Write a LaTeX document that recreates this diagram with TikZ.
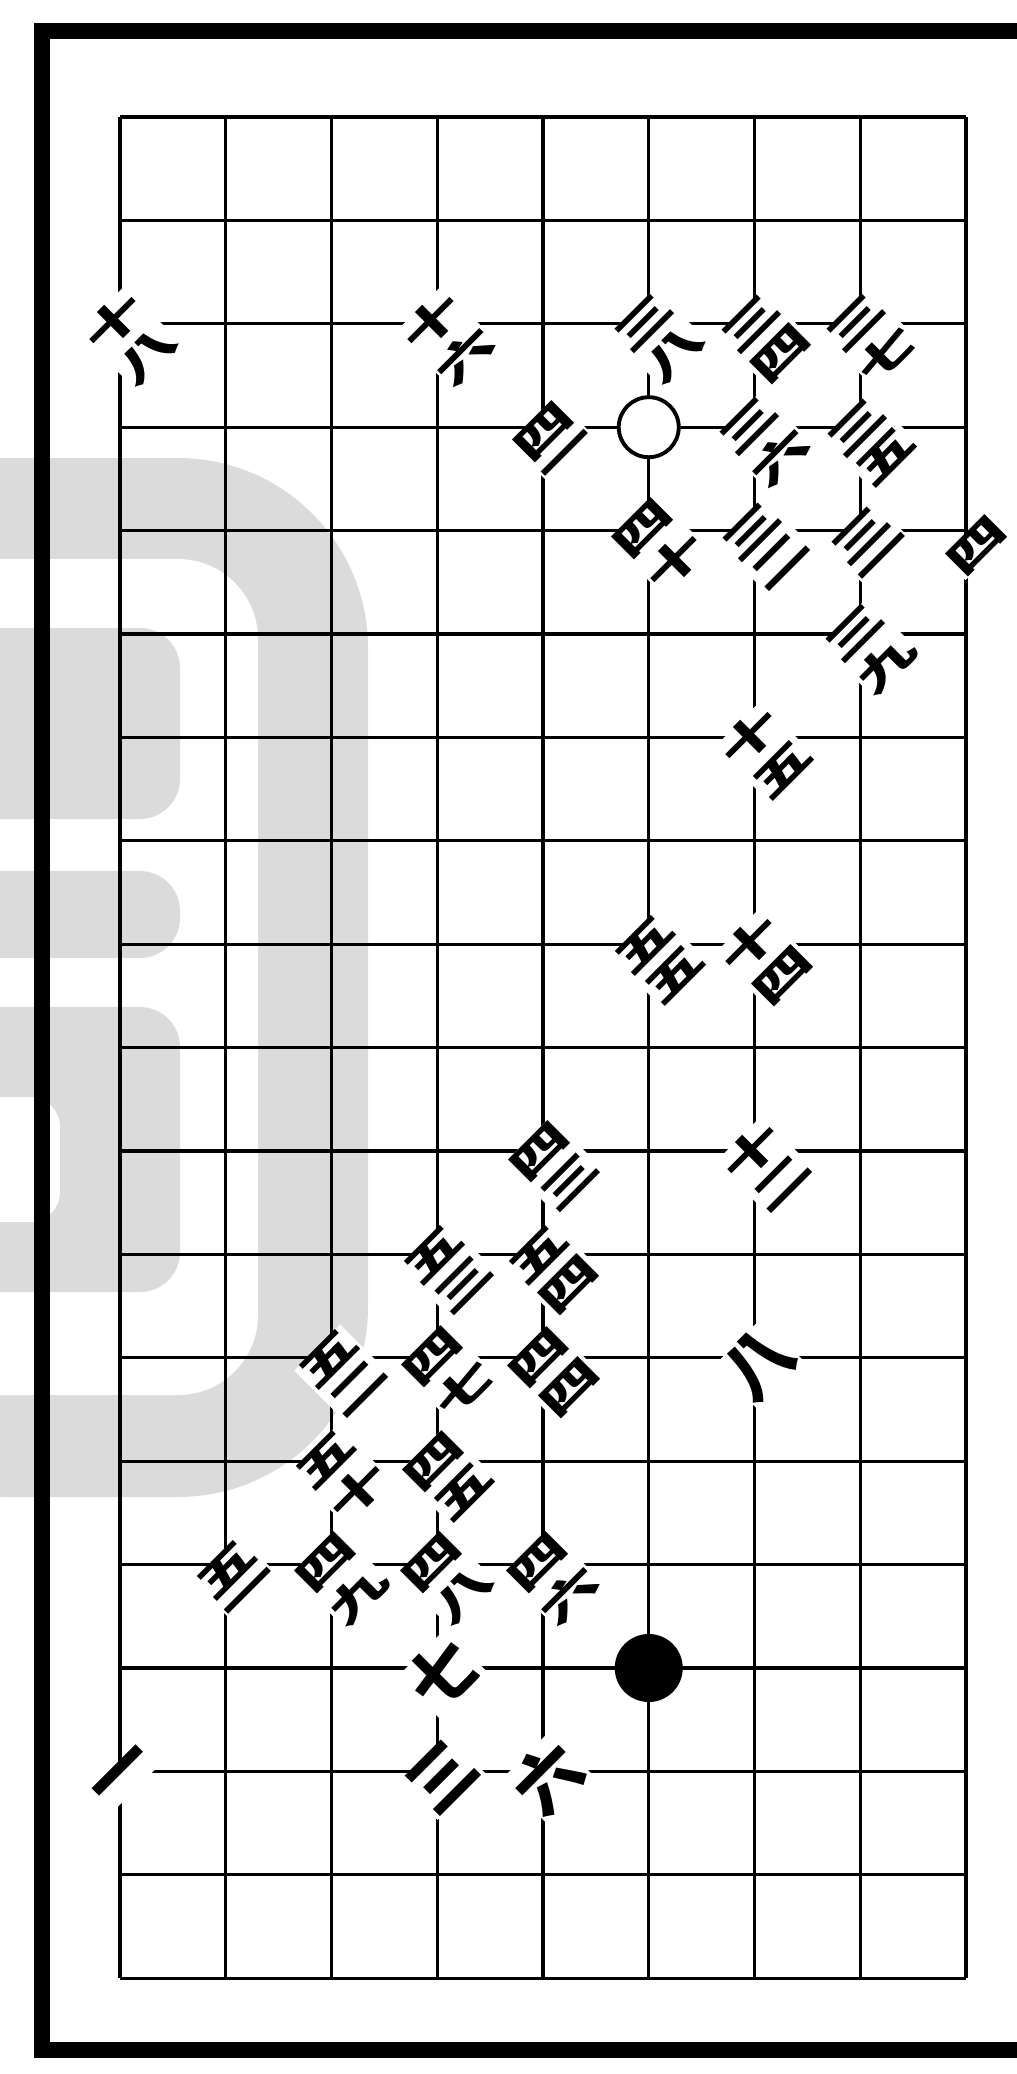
\documentclass[tikz,border=0pt]{standalone}
\usepackage{fontspec}
\usepackage{graphicx}
\newfontfamily\cjk{Noto Sans CJK TC}
\tikzset{gline/.style={line width=0.9pt},
  bframe/.style={line width=1.6mm},
  wmark/.style={fill=gray!28},
  mvnum/.style={xshift=1.1mm,yshift=-1.5mm,rotate=45,inner sep=0pt,fill=white,
    font=\cjk\bfseries\fontsize{18.5}{18.5}\selectfont},
  mvone/.style={xshift=0.5mm,yshift=-0.6mm,rotate=45,inner sep=0pt,fill=white,
    font=\cjk\bfseries\fontsize{19}{19}\selectfont},
  wstone/.style={circle,draw,line width=1.1pt,fill=white,minimum size=6mm,inner sep=0pt},
  bstone/.style={circle,fill=black,minimum size=6.8mm,inner sep=0pt}}
\newcommand\stk[2]{\shortstack{\scalebox{1}[.6]{#1}\\\scalebox{1}[.6]{#2}}}

\begin{document}
\begin{tikzpicture}[x=1.0575cm,y=-1.034cm]
  \useasboundingbox (-1.20cm,1.17cm) rectangle (8.97cm,-19.57cm);
  \fill[white] (-1.20cm,1.17cm) rectangle (8.97cm,-19.57cm);
  % watermark
  \fill[wmark,rounded corners=1.9cm] (-3cm,-3.41cm) -- (2.48cm,-3.41cm)
    -- (2.48cm,-13.80cm) -- (-3cm,-13.80cm) -- cycle;
  \fill[white,rounded corners=0.8cm] (-3cm,-4.42cm) -- (1.38cm,-4.42cm)
    -- (1.38cm,-12.78cm) -- (-3cm,-12.78cm) -- cycle;
  \fill[wmark,rounded corners=0.4cm] (-3cm,-5.11cm) -- (0.60cm,-5.11cm)
    -- (0.60cm,-7.02cm) -- (-3cm,-7.02cm) -- cycle;
  \fill[wmark,rounded corners=0.4cm] (-3cm,-7.54cm) -- (0.60cm,-7.54cm)
    -- (0.60cm,-8.41cm) -- (-3cm,-8.41cm) -- cycle;
  \fill[wmark,rounded corners=0.4cm] (-3cm,-8.90cm) -- (0.60cm,-8.90cm)
    -- (0.60cm,-11.75cm) -- (-3cm,-11.75cm) -- cycle;
  \fill[white,rounded corners=0.3cm] (-3cm,-9.80cm) -- (-0.60cm,-9.80cm)
    -- (-0.60cm,-11.05cm) -- (-3cm,-11.05cm) -- cycle;
  % frame
  \draw[bframe] (8.97cm,0.86cm) -- (-0.78cm,0.86cm) -- (-0.78cm,-19.33cm) -- (8.97cm,-19.33cm);
  % board
  \foreach \i in {0,...,8} \draw[gline] (\i,0) -- (\i,18);
  \foreach \j in {0,...,18} \draw[gline] (0,\j) -- (8,\j);
  % stones
  \node[wstone] (w) at (5,3) {};
  \node[bstone] (b) at (5,15) {};
  % moves
  \node[mvnum] (m18) at (0,2) {\stk{十}{八}};
  \node[mvnum] (m16) at (3,2) {\stk{十}{六}};
  \node[mvnum] (m38) at (5,2) {\stk{三}{八}};
  \node[mvnum] (m34) at (6,2) {\stk{三}{四}};
  \node[mvnum] (m37) at (7,2) {\stk{三}{七}};
  \node[mvnum] (m41) at (4,3) {\stk{四}{一}};
  \node[mvnum] (m36) at (6,3) {\stk{三}{六}};
  \node[mvnum] (m35) at (7,3) {\stk{三}{五}};
  \node[mvnum] (m40) at (5,4) {\stk{四}{十}};
  \node[mvnum] (m32) at (6,4) {\stk{三}{二}};
  \node[mvnum] (m31) at (7,4) {\stk{三}{一}};
  \node[mvnum] (m4x) at (8,4) {\scalebox{1}[.6]{四}};
  \node[mvnum] (m39) at (7,5) {\stk{三}{九}};
  \node[mvnum] (m15) at (6,6) {\stk{十}{五}};
  \node[mvnum] (m55) at (5,8) {\stk{五}{五}};
  \node[mvnum] (m14) at (6,8) {\stk{十}{四}};
  \node[mvnum] (m43) at (4,10) {\stk{四}{三}};
  \node[mvnum] (m12) at (6,10) {\stk{十}{二}};
  \node[mvnum] (m53) at (3,11) {\stk{五}{三}};
  \node[mvnum] (m54) at (4,11) {\stk{五}{四}};
  \node[mvnum] (m52) at (2,12) {\stk{五}{二}};
  \node[mvnum] (m47) at (3,12) {\stk{四}{七}};
  \node[mvnum] (m44) at (4,12) {\stk{四}{四}};
  \node[mvone] (m8) at (6,12) {八};
  \node[mvnum] (m50) at (2,13) {\stk{五}{十}};
  \node[mvnum] (m45) at (3,13) {\stk{四}{五}};
  \node[mvnum] (m51) at (1,14) {\stk{五}{一}};
  \node[mvnum] (m49) at (2,14) {\stk{四}{九}};
  \node[mvnum] (m48) at (3,14) {\stk{四}{八}};
  \node[mvnum] (m46) at (4,14) {\stk{四}{六}};
  \node[mvone] (m7) at (3,15) {七};
  \node[mvone] (m1) at (0,16) {一};
  \node[mvone] (m3) at (3,16) {三};
  \node[mvone] (m6) at (4,16) {六};
\end{tikzpicture}
\end{document}
